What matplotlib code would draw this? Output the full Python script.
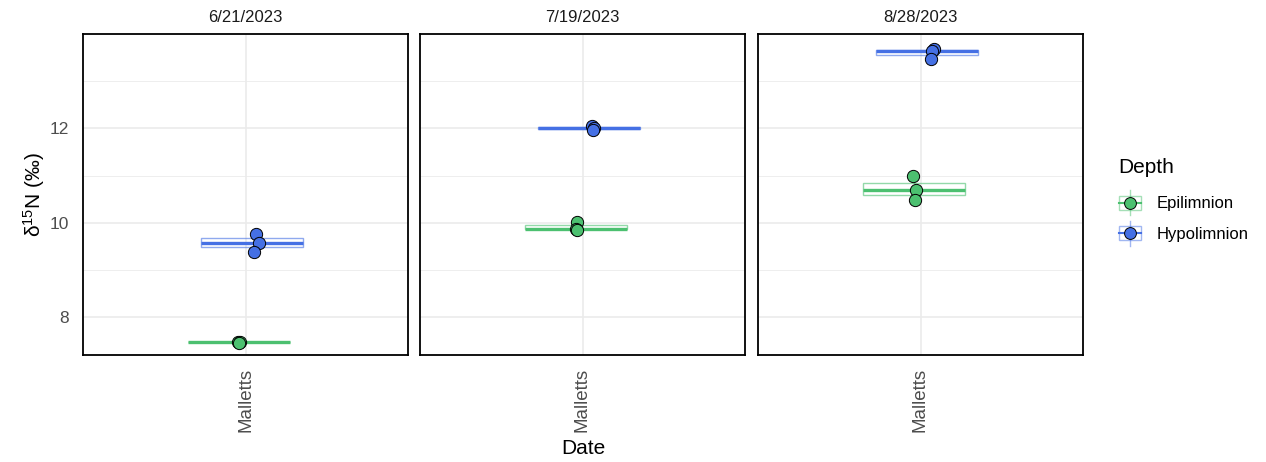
import matplotlib.pyplot as plt
import numpy as np
from matplotlib.legend_handler import HandlerBase
from matplotlib.patches import Rectangle
from matplotlib.lines import Line2D

plt.rcParams['font.family'] = ['Liberation Sans', 'DejaVu Sans']
plt.rcParams['mathtext.default'] = 'regular'

#--- Data
dates = ["6/21/2023", "7/19/2023", "8/28/2023"]
site = "Malletts"
depths = ["Epilimnion", "Hypolimnion"]
colors = {"Epilimnion": "#4CC070", "Hypolimnion": "#4570E4"}

epi_d15n = [[7.48, 7.47, 7.46], [10.02, 9.87, 9.85], [11.00, 10.70, 10.49]]
hypo_d15n = [[9.76, 9.58, 9.38], [12.06, 12.00, 11.97], [13.69, 13.65, 13.46]]
epi_jitter = [[-0.004, 0.004, 0.0], [0.004, 0.0, 0.003], [-0.005, 0.009, 0.002]]
hypo_jitter = [[0.015, 0.026, 0.007], [0.01, 0.02, 0.016], [0.024, 0.02, 0.013]]

values = {"Epilimnion": epi_d15n, "Hypolimnion": hypo_d15n}
jitters = {"Epilimnion": epi_jitter, "Hypolimnion": hypo_jitter}
dodge = {"Epilimnion": -0.024, "Hypolimnion": 0.024}

W, H = 1266, 462
fig = plt.figure(figsize=(W / 100, H / 100), dpi=100)
fig.patch.set_facecolor("white")

panel_left = [83, 420, 758]
panel_w, top, bottom = 325, 34, 355

for i, date in enumerate(dates):
    ax = fig.add_axes([panel_left[i] / W, (H - bottom) / H, panel_w / W, (bottom - top) / H])
    ax.set_xlim(0.4, 1.6)
    ax.set_ylim(7.2, 14.0)
    ax.set_yticks([8, 10, 12])
    ax.set_yticks([9, 11, 13], minor=True)
    ax.set_xticks([1])
    ax.grid(True, which="major", color="#EBEBEB", lw=1.2, zorder=0)
    ax.grid(True, which="minor", axis="y", color="#EBEBEB", lw=0.6, zorder=0)
    ax.set_axisbelow(True)
    for s in ax.spines.values():
        s.set_linewidth(1.3)
        s.set_color("black")
    ax.tick_params(which="both", length=0)
    ax.tick_params(axis="y", labelsize=12.5, labelcolor="#4D4D4D", pad=10)
    if i > 0:
        ax.set_yticklabels([])
    ax.set_xticklabels([site], rotation=90, fontsize=13.5, color="#4D4D4D")
    ax.tick_params(axis="x", pad=9)
    ax.set_title(date, fontsize=12, color="#1A1A1A", pad=9)

    for d in depths:
        c = colors[d]
        vals = values[d][i]
        pos = 1 + dodge[d]
        bp = ax.boxplot([vals], positions=[pos], widths=0.375, patch_artist=True,
                        showfliers=False, showcaps=False, manage_ticks=False, zorder=2)
        for b in bp["boxes"]:
            b.set_facecolor("none")
            b.set_edgecolor(c)
            b.set_alpha(0.6)
            b.set_linewidth(1.0)
        for w in bp["whiskers"]:
            w.set_color(c)
            w.set_alpha(0.6)
        for m in bp["medians"]:
            m.set_color(c)
            m.set_linewidth(2.4)
        xs = pos + np.array(jitters[d][i])
        ax.scatter(xs, vals, s=78, color=c, edgecolor="black", linewidth=0.7, zorder=3)

fig.text(34 / W, 1 - 195 / H, r"$\delta^{15}$N (‰)", rotation=90, fontsize=15,
         ha="center", va="center")
fig.text(583 / W, 1 - 448 / H, "Date", fontsize=15, ha="center", va="center")


class BoxPointHandler(HandlerBase):
    def create_artists(self, legend, orig_handle, xd, yd, width, height, fontsize, trans):
        c = orig_handle.get_color()
        cx, cy = width / 2 - xd, height / 2 - yd
        rect = Rectangle((cx - 8, cy - 5), 16, 10, facecolor="none", edgecolor=c,
                         alpha=0.5, lw=1.0, transform=trans)
        vline = Line2D([cx, cx], [cy - 9, cy + 9], color=c, alpha=0.5, lw=1.0, transform=trans)
        hline = Line2D([cx - 8, cx + 8], [cy, cy], color=c, lw=1.5, transform=trans)
        pt = Line2D([cx], [cy], marker="o", markersize=8.5, markerfacecolor=c,
                    markeredgecolor="black", markeredgewidth=0.7, linestyle="none",
                    transform=trans)
        return [rect, vline, hline, pt]


handles = [Line2D([], [], color=colors[d]) for d in depths]
leg = fig.legend(handles, depths, handler_map={Line2D: BoxPointHandler()},
                 loc="upper left", bbox_to_anchor=(1103 / W, 1 - 143 / H), frameon=False,
                 title="Depth", title_fontsize=15, fontsize=12, handlelength=1.4,
                 handleheight=1.3, labelspacing=0.75, handletextpad=0.9, alignment="left")
leg._legend_box.sep = 12

fig.savefig("out.png", dpi=100)
